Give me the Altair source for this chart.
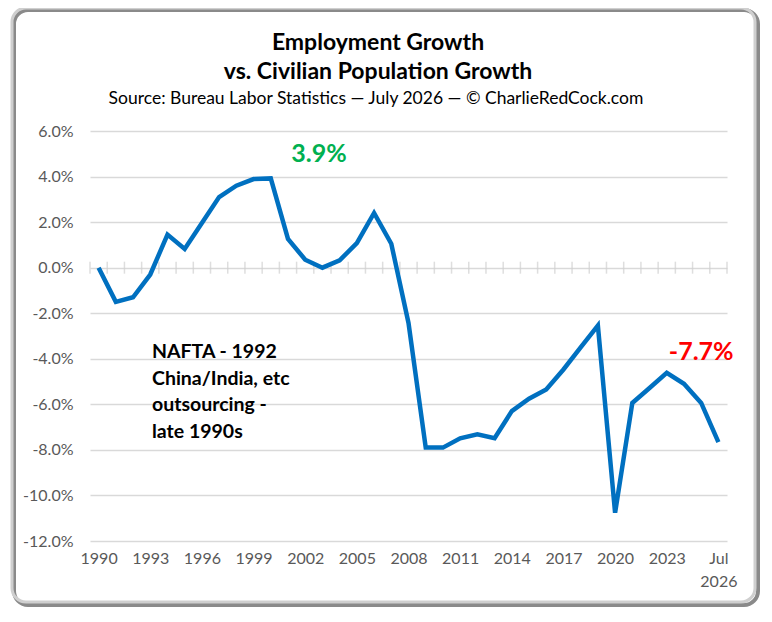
import altair as alt
import pandas as pd

years = list(range(1990, 2027))
growth = [0.0, -1.5, -1.3, -0.3, 1.45, 0.82, 1.96, 3.1, 3.6, 3.89,
          3.92, 1.26, 0.35, 0.0, 0.32, 1.08, 2.4, 1.05, -2.43, -7.9,
          -7.9, -7.49, -7.32, -7.49, -6.3, -5.75, -5.35, -4.47, -3.5, -2.54,
          -10.76, -5.94, -5.28, -4.62, -5.1, -5.94, -7.66]
x_labels = [1990, 1993, 1996, 1999, 2002, 2005, 2008, 2011, 2014, 2017, 2020, 2023, 2026]
y_ticks = [-12, -10, -8, -6, -4, -2, 0, 2, 4, 6]
title_lines = ["Employment Growth", "vs. Civilian Population Growth"]
subtitle = "Source: Bureau Labor Statistics \u2014  July 2026 \u2014 \u00a9 CharlieRedCock.com"
note = "NAFTA - 1992\nChina/India, etc\noutsourcing -\nlate 1990s"

FONT = "Lato"

df = pd.DataFrame({"year": years, "growth": growth})
# small tick marks on the zero line, between the years
tick_df = pd.DataFrame({"b": [y - 0.5 for y in years] + [years[-1] + 0.5], "z": 0})

peak = max(growth)
last = growth[-1]
ann_df = pd.DataFrame({
    "year": [2002.8, 2025.0],
    "growth": [5.0, -3.7],
    "label": [f"{peak:.1f}%", f"{last:.1f}%"],
    "kind": ["peak", "last"],
})
note_df = pd.DataFrame({"year": [1993.1], "growth": [-3.7], "label": [note]})

x_scale = alt.Scale(domain=[1989.5, 2026.5], nice=False, zero=False)
y_scale = alt.Scale(domain=[-12, 6], nice=False)

line = alt.Chart(df).mark_line(color="#0070C0", strokeWidth=4.5, strokeJoin="miter").encode(
    x=alt.X("year:Q", scale=x_scale, title=None,
            axis=alt.Axis(values=x_labels, format="d", grid=False, ticks=False, domain=False,
                          labelExpr="datum.value == 2026 ? ['Jul', '2026'] : datum.label",
                          labelPadding=9, labelLineHeight=23)),
    y=alt.Y("growth:Q", scale=y_scale, title=None,
            axis=alt.Axis(values=y_ticks, grid=True, ticks=False, domain=False,
                          labelExpr="(datum.value < 0 ? '-' : '') + format(abs(datum.value), '.1f') + '%'",
                          labelPadding=17)),
)

ticks = alt.Chart(tick_df).mark_tick(color="#d0d0d0", size=12, thickness=1.5, orient="vertical").encode(
    x=alt.X("b:Q", scale=x_scale),
    y=alt.Y("z:Q", scale=y_scale),
)

ann = alt.Chart(ann_df).mark_text(font=FONT, fontSize=25, fontWeight="bold").encode(
    x=alt.X("year:Q", scale=x_scale),
    y=alt.Y("growth:Q", scale=y_scale),
    text="label:N",
    color=alt.Color("kind:N", scale=alt.Scale(domain=["peak", "last"], range=["#00B050", "#FF0000"]),
                    legend=None),
)

note_text = alt.Chart(note_df).mark_text(font=FONT, fontSize=19.5, fontWeight="bold", align="left",
                                         baseline="middle", lineBreak="\n", lineHeight=26.7,
                                         color="black").encode(
    x=alt.X("year:Q", scale=x_scale),
    y=alt.Y("growth:Q", scale=y_scale),
    text="label:N",
)

one = pd.DataFrame({"a": [0]})
head1 = alt.Chart(pd.DataFrame({"t": [title_lines[0]]})).mark_text(
    font=FONT, fontSize=23, fontWeight="bold", color="black").encode(
    x=alt.value(288), y=alt.value(-88), text="t:N")
head2 = alt.Chart(pd.DataFrame({"t": [title_lines[1]]})).mark_text(
    font=FONT, fontSize=23, fontWeight="bold", color="black").encode(
    x=alt.value(288), y=alt.value(-59), text="t:N")
sub = alt.Chart(pd.DataFrame({"t": [subtitle]})).mark_text(
    font=FONT, fontSize=17.5, color="black").encode(
    x=alt.value(286), y=alt.value(-32), text="t:N")

shadow = alt.Chart(one).mark_rect(fillOpacity=0, stroke="#8a8a8a", strokeWidth=4, cornerRadius=14).encode(
    x=alt.value(-76), x2=alt.value(668), y=alt.value(-121), y2=alt.value(474))
frame = alt.Chart(one).mark_rect(fillOpacity=0, stroke="#cfcfcf", strokeWidth=3, cornerRadius=14).encode(
    x=alt.value(-78), x2=alt.value(665), y=alt.value(-123), y2=alt.value(471))

chart = alt.layer(shadow, frame, ticks, line, ann, note_text, head1, head2, sub).properties(
    width=637,
    height=410,
    autosize=alt.AutoSizeParams(type="none"),
    padding={"left": 82, "top": 123, "right": 37, "bottom": 70},
).configure_view(stroke=None).configure_axis(
    labelFont=FONT, labelFontSize=16, labelColor="#595959",
    gridColor="#d9d9d9", gridWidth=1.5,
)

chart.save("out.html", embed_options={"renderer": "svg", "actions": False})
